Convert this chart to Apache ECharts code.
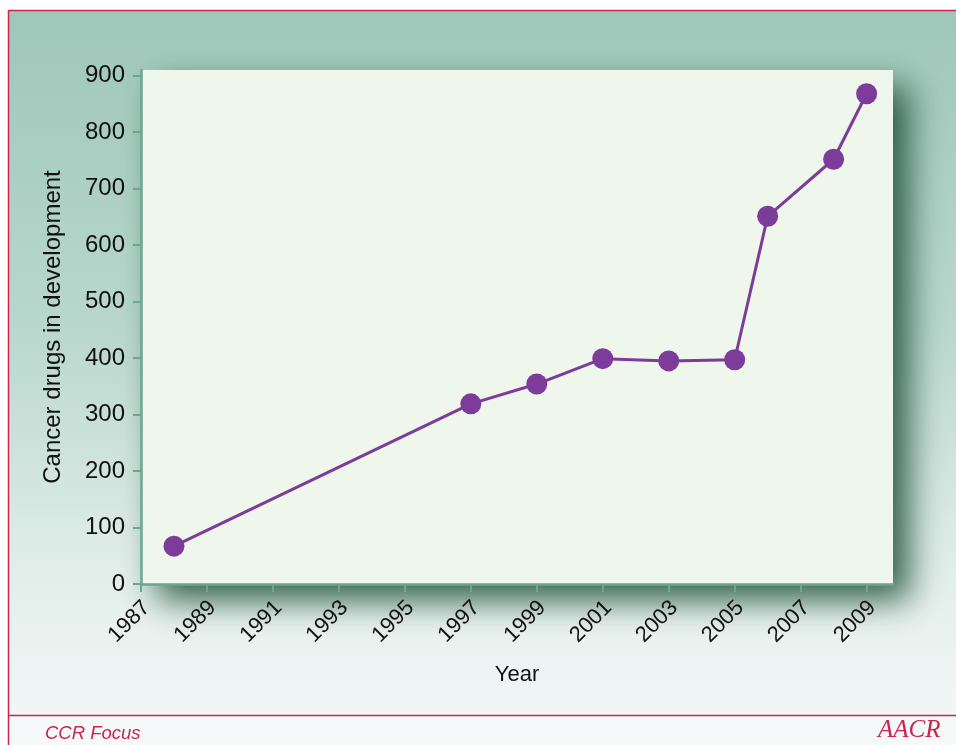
<!DOCTYPE html>
<html>
<head>
<meta charset="utf-8">
<script src="https://cdn.jsdelivr.net/npm/echarts@6/dist/echarts.min.js"></script>
<style>
html,body{margin:0;padding:0;background:#fff;}
#chart{width:956px;height:745px;}
</style>
</head>
<body>
<div id="chart"></div>
<script>
var years = [1988, 1997, 1999, 2001, 2003, 2005, 2006, 2008, 2009];
var drugs = [67, 319, 354, 399, 395, 397, 651, 752, 868];
var xTickYears = [1987, 1989, 1991, 1993, 1995, 1997, 1999, 2001, 2003, 2005, 2007, 2009];
var yTicks = [0, 100, 200, 300, 400, 500, 600, 700, 800, 900];

var crimson = '#c8254f';
var purple = '#7d3c9a';
var axisGreen = '#6aa78f';
var font = '"Liberation Sans", Arial, sans-serif';

var chart = echarts.init(document.getElementById('chart'), null, {renderer: 'canvas'});
chart.setOption({
  animation: false,
  backgroundColor: '#ffffff',
  graphic: [
    {type: 'rect', z: -100, silent: true,
     shape: {x: 8, y: 10, width: 960, height: 705},
     style: {fill: new echarts.graphic.LinearGradient(0, 0, 0, 1, [
       {offset: 0, color: '#9ec7b9'},
       {offset: 0.45, color: '#b9d7cd'},
       {offset: 0.8, color: '#e2eeea'},
       {offset: 1, color: '#f2f6f6'}
     ])}},
    {type: 'rect', z: -100, silent: true,
     shape: {x: 8, y: 715, width: 960, height: 40},
     style: {fill: '#f6f9fa'}},
    {type: 'line', z: 100, silent: true, shape: {x1: 8.5, y1: 10.5, x2: 960, y2: 10.5}, style: {stroke: crimson, lineWidth: 1.5}},
    {type: 'line', z: 100, silent: true, shape: {x1: 8.5, y1: 10, x2: 8.5, y2: 760}, style: {stroke: crimson, lineWidth: 1.5}},
    {type: 'line', z: 100, silent: true, shape: {x1: 8, y1: 715.5, x2: 960, y2: 715.5}, style: {stroke: crimson, lineWidth: 1.5}},
    {type: 'text', z: 100, silent: true, x: 45, y: 724,
     style: {text: 'CCR Focus', fill: crimson, font: 'italic 18.5px ' + font}},
    {type: 'text', z: 100, silent: true, x: 878, y: 718,
     style: {text: 'AACR', fill: crimson, font: 'italic 25px "Liberation Serif", "DejaVu Serif", serif'}}
  ],
  grid: {
    show: true,
    left: 141, right: 63, top: 70, bottom: 161,
    backgroundColor: '#eff6ec',
    borderWidth: 0,
    shadowColor: 'rgba(30,80,60,0.9)',
    shadowBlur: 32,
    shadowOffsetX: 16,
    shadowOffsetY: 16
  },
  xAxis: {
    type: 'value',
    min: 1987, max: 2009.8,
    name: 'Year',
    nameLocation: 'middle',
    nameGap: 80,
    nameTextStyle: {color: '#111', fontSize: 22, fontFamily: font},
    axisLine: {show: true, onZero: false, lineStyle: {color: axisGreen, width: 2.5}},
    axisTick: {show: true, length: 8, customValues: xTickYears, lineStyle: {color: axisGreen, width: 2}},
    axisLabel: {customValues: xTickYears, rotate: 45, margin: 26, padding: [0, -8, 0, 0], color: '#111', fontSize: 22, fontFamily: font,
      formatter: function (v) { return String(v); }},
    splitLine: {show: false}
  },
  yAxis: {
    type: 'value',
    min: 0, max: 910,
    name: 'Cancer drugs in development',
    nameLocation: 'middle',
    nameRotate: 90,
    nameGap: 76,
    nameTextStyle: {color: '#111', fontSize: 24, fontFamily: font},
    axisLine: {show: true, onZero: false, lineStyle: {color: axisGreen, width: 2.5}},
    axisTick: {show: true, length: 8, customValues: yTicks, lineStyle: {color: axisGreen, width: 2}},
    axisLabel: {customValues: yTicks, margin: 16, color: '#111', fontSize: 24, fontFamily: font},
    splitLine: {show: false}
  },
  series: [{
    type: 'line',
    data: years.map(function (y, i) { return [y, drugs[i]]; }),
    symbol: 'circle',
    symbolSize: 21,
    lineStyle: {color: purple, width: 3},
    itemStyle: {color: purple},
    z: 5
  }]
});
</script>
</body>
</html>
